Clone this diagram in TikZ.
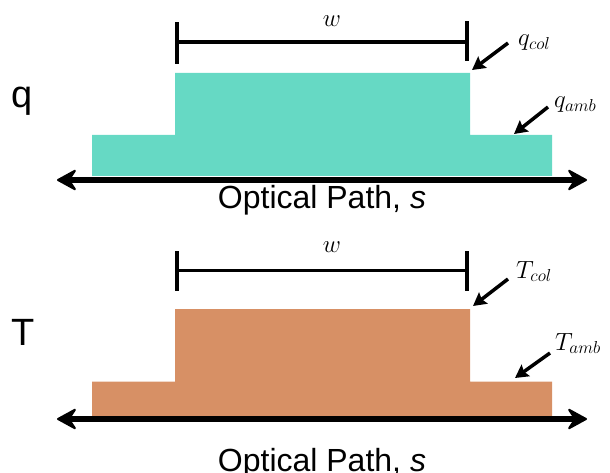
\documentclass[tikz,border=0pt]{standalone}
\usepackage{fontspec}
\setmainfont{Liberation Sans}
\usetikzlibrary{arrows.meta}
\definecolor{tealfill}{RGB}{102,217,196}
\definecolor{orangefill}{RGB}{215,144,101}
\tikzset{
  axisline/.style={line width=6pt,{Stealth[length=22pt,width=24pt,inset=8pt,round,line width=2pt]}-{Stealth[length=22pt,width=24pt,inset=8pt,round,line width=2pt]}},
  bracketline/.style={line width=3.5pt},
  pointer/.style={line width=3.5pt,-{Stealth[length=13pt,width=14pt,inset=2pt]}},
  biglabel/.style={font=\fontsize{38}{44}\selectfont},
  pathlabel/.style={font=\fontsize{32}{38}\selectfont,anchor=base},
  mathlabel/.style={font=\fontsize{26}{30}\selectfont,anchor=base west,inner sep=0pt},
  wlabel/.style={font=\fontsize{28}{32}\selectfont}
}
\begin{document}
\begin{tikzpicture}[x=1pt,y=-1pt]
\useasboundingbox (0,0) rectangle (610,473);

% ---------- top panel (q) ----------
\fill[tealfill] (92,176) -- (92,135) -- (175,135) -- (175,73) -- (470,73)
  -- (470,135) -- (552,135) -- (552,176) -- cycle;
\coordinate (qaxl) at (57,180);
\coordinate (qaxr) at (587,180);
\draw[axisline] (qaxl) -- (qaxr);
\node[pathlabel] (qpath) at (322,208) {Optical Path, \textit{s}};
\node[biglabel] (qname) at (22,101) {q};

\coordinate (qbl) at (177,42);
\coordinate (qbr) at (467,42);
\draw[bracketline] (qbl) -- (qbr);
\draw[bracketline] ([yshift=-22pt]qbl) -- ([yshift=20pt]qbl);
\draw[bracketline] ([yshift=-19pt]qbr) -- ([yshift=21pt]qbr);
\node[wlabel] (qw) at (332,21) {$w$};

\node[mathlabel] (qcol) at (518,46) {$q_{col}$};
\coordinate (qcolt) at (508,43);
\coordinate (qcolh) at (472,70);
\draw[pointer] (qcolt) -- (qcolh);
\node[mathlabel] (qamb) at (554,108) {$q_{amb}$};
\coordinate (qambt) at (548,107);
\coordinate (qambh) at (514,134);
\draw[pointer] (qambt) -- (qambh);

% ---------- bottom panel (T) ----------
\fill[orangefill] (92,416) -- (92,381.5) -- (175,381.5) -- (175,309) -- (470,309)
  -- (470,381.5) -- (552,381.5) -- (552,416) -- cycle;
\coordinate (taxl) at (57,419);
\coordinate (taxr) at (587,419);
\draw[axisline] (taxl) -- (taxr);
\node[pathlabel] (tpath) at (322,471) {Optical Path, \textit{s}};
\node[biglabel] (tname) at (23.5,332) {T};

\coordinate (tbl) at (177,270.5);
\coordinate (tbr) at (467,270.5);
\draw[bracketline] (tbl) -- (tbr);
\draw[bracketline] ([yshift=-20pt]tbl) -- ([yshift=20pt]tbl);
\draw[bracketline] ([yshift=-20pt]tbr) -- ([yshift=20pt]tbr);
\node[wlabel] (tw) at (332,247) {$w$};

\node[mathlabel] (tcol) at (516,278) {$T_{col}$};
\coordinate (tcolt) at (508,279);
\coordinate (tcolh) at (473,306);
\draw[pointer] (tcolt) -- (tcolh);
\node[mathlabel] (tamb) at (555,350) {$T_{amb}$};
\coordinate (tambt) at (550,353);
\coordinate (tambh) at (515,378);
\draw[pointer] (tambt) -- (tambh);
\end{tikzpicture}
\end{document}
